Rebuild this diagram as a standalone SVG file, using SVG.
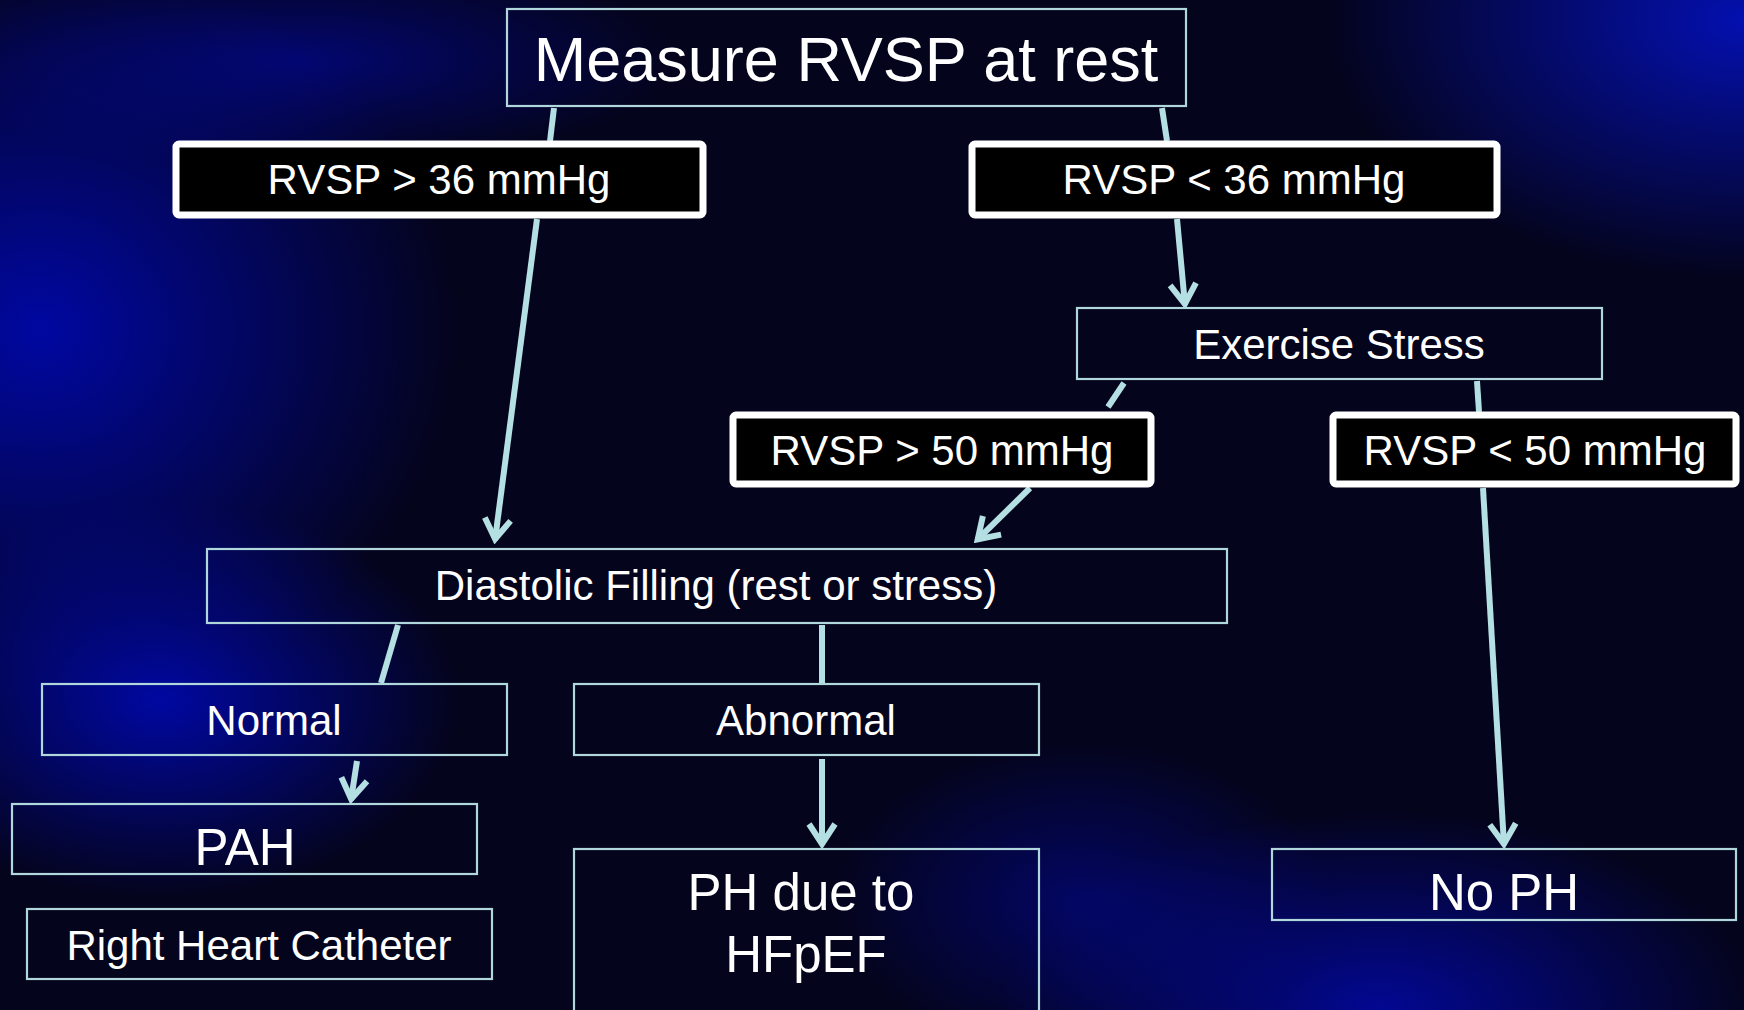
<svg xmlns="http://www.w3.org/2000/svg" width="1744" height="1010" viewBox="0 0 1744 1010">
<defs>
<radialGradient id="gL" cx="0.5" cy="0.5" r="0.5"><stop offset="0" stop-color="#0008a8" stop-opacity="0.95"/><stop offset="1" stop-color="#0008a8" stop-opacity="0"/></radialGradient>
<radialGradient id="gTR" cx="0.5" cy="0.5" r="0.5"><stop offset="0" stop-color="#0410b0" stop-opacity="1"/><stop offset="1" stop-color="#0410b0" stop-opacity="0"/></radialGradient>
<radialGradient id="gB" cx="0.5" cy="0.5" r="0.5"><stop offset="0" stop-color="#0208a0" stop-opacity="0.9"/><stop offset="1" stop-color="#0208a0" stop-opacity="0"/></radialGradient>
<marker id="ah" viewBox="-26 -16 30 32" refX="0" refY="0" markerWidth="30" markerHeight="32" markerUnits="userSpaceOnUse" orient="auto">
<path d="M-21,-13 L-1,0 L-21,13" fill="none" stroke="#b4dfe3" stroke-width="6" stroke-linejoin="miter"/>
</marker>
<style>
.thin{fill:none;stroke:#b0d8dc;stroke-width:2.2}
.thick{fill:#000;stroke:#fff;stroke-width:7}
.t{fill:#fff;font-family:"Liberation Sans",Arial,sans-serif;text-anchor:middle}
.s42{font-size:42px}
.s50{font-size:51px}
.s63{font-size:63px}
.c{stroke:#b4dfe3;stroke-width:6;fill:none}
</style>
</defs>
<rect x="0" y="0" width="1744" height="1010" fill="#04041c"/>
<ellipse cx="40" cy="330" rx="420" ry="380" fill="url(#gL)"/>
<ellipse cx="160" cy="700" rx="300" ry="200" fill="url(#gL)"/>
<ellipse cx="1744" cy="20" rx="420" ry="260" fill="url(#gTR)"/>
<ellipse cx="1380" cy="1010" rx="380" ry="200" fill="url(#gB)"/>
<ellipse cx="1080" cy="900" rx="250" ry="160" fill="url(#gB)" opacity="0.6"/>
<ellipse cx="300" cy="60" rx="380" ry="110" fill="url(#gB)" opacity="0.7"/>
<g id="connectors">
<line class="c" x1="554" y1="108" x2="550" y2="141"/>
<line class="c" x1="1162" y1="108" x2="1167" y2="141"/>
<line class="c" x1="537" y1="219" x2="495" y2="540" marker-end="url(#ah)"/>
<line class="c" x1="1177" y1="219" x2="1185" y2="305" marker-end="url(#ah)"/>
<line class="c" x1="1124" y1="383" x2="1108" y2="407"/>
<line class="c" x1="1477" y1="381" x2="1479" y2="412"/>
<line class="c" x1="1030" y1="488" x2="977" y2="540" marker-end="url(#ah)"/>
<line class="c" x1="1483" y1="488" x2="1504" y2="845" marker-end="url(#ah)"/>
<line class="c" x1="398" y1="625" x2="381" y2="683"/>
<line class="c" x1="822" y1="625" x2="822" y2="683"/>
<line class="c" x1="357" y1="761" x2="351" y2="800" marker-end="url(#ah)"/>
<line class="c" x1="822" y1="759" x2="822" y2="845" marker-end="url(#ah)"/>
</g>
<g id="n-measure"><rect class="thin" x="507" y="9" width="679" height="97"/><text class="t s63" x="846" y="81">Measure RVSP at rest</text></g>
<g id="n-gt36"><rect class="thick" x="176" y="144" width="527" height="71" rx="3"/><text class="t s42" x="439" y="194">RVSP &gt; 36 mmHg</text></g>
<g id="n-lt36"><rect class="thick" x="972" y="144" width="525" height="71" rx="3"/><text class="t s42" x="1234" y="194">RVSP &lt; 36 mmHg</text></g>
<g id="n-exercise"><rect class="thin" x="1077" y="308" width="525" height="71"/><text class="t s42" x="1339" y="359">Exercise Stress</text></g>
<g id="n-gt50"><rect class="thick" x="733" y="415" width="418" height="69" rx="3"/><text class="t s42" x="942" y="465">RVSP &gt; 50 mmHg</text></g>
<g id="n-lt50"><rect class="thick" x="1333" y="415" width="403" height="69" rx="3"/><text class="t s42" x="1535" y="465">RVSP &lt; 50 mmHg</text></g>
<g id="n-diastolic"><rect class="thin" x="207" y="549" width="1020" height="74"/><text class="t s42" x="716" y="600">Diastolic Filling (rest or stress)</text></g>
<g id="n-normal"><rect class="thin" x="42" y="684" width="465" height="71"/><text class="t s42" x="274" y="735">Normal</text></g>
<g id="n-abnormal"><rect class="thin" x="574" y="684" width="465" height="71"/><text class="t s42" x="806" y="735">Abnormal</text></g>
<g id="n-pah"><rect class="thin" x="12" y="804" width="465" height="70"/><text class="t s50" x="245" y="865">PAH</text></g>
<g id="n-rhc"><rect class="thin" x="27" y="909" width="465" height="70"/><text class="t s42" x="259" y="960">Right Heart Catheter</text></g>
<g id="n-hfpef"><rect class="thin" x="574" y="849" width="465" height="170"/><text class="t s50" x="801" y="910">PH due to</text><text class="t s50" x="806" y="972">HFpEF</text></g>
<g id="n-noph"><rect class="thin" x="1272" y="849" width="464" height="71"/><text class="t s50" x="1504" y="910">No PH</text></g>
</svg>
